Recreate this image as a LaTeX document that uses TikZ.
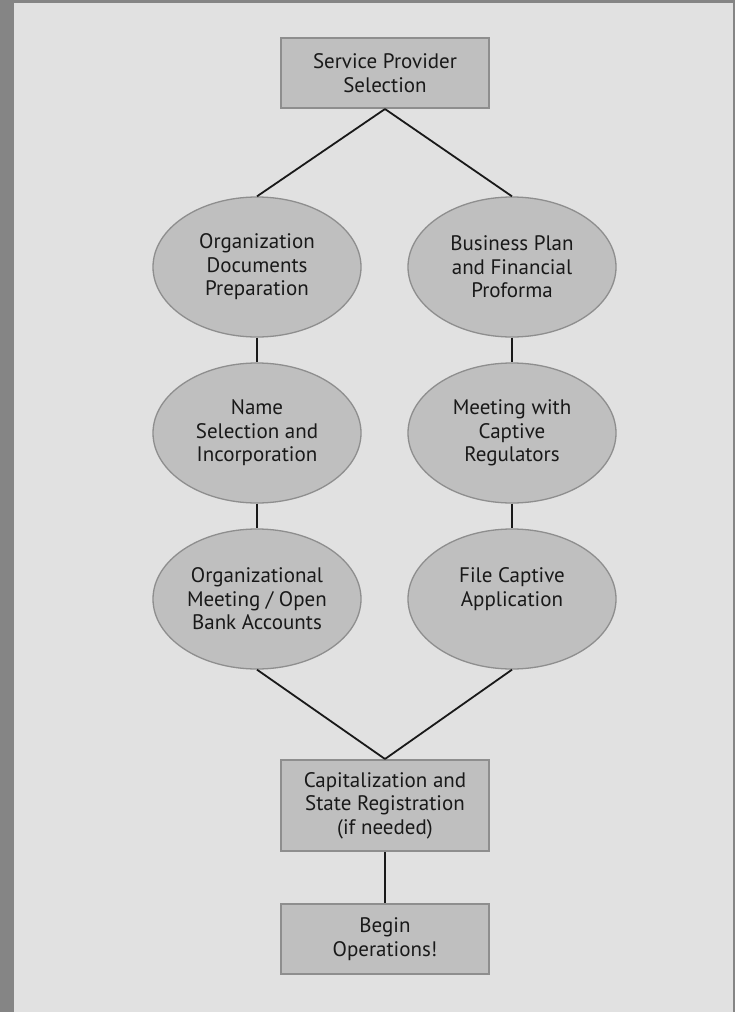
\documentclass[tikz,border=0pt]{standalone}
\usepackage{fontspec}
\setmainfont{PT Sans}
\usetikzlibrary{shapes.geometric}
\definecolor{FrameGray}{HTML}{858585}
\definecolor{PageGray}{HTML}{E1E1E1}
\definecolor{BoxGray}{HTML}{BFBFBF}
\definecolor{EdgeGray}{HTML}{8E8E8E}

\begin{document}
\begin{tikzpicture}[x=1pt,y=-1pt]
\tikzset{StepBox/.style={draw=EdgeGray,line width=2pt,fill=BoxGray,
    minimum width=208pt,minimum height=70pt,inner sep=0pt,align=center,
    text=black!90,font=\fontsize{21}{23.5}\selectfont}}
\tikzset{StepOval/.style={ellipse,draw=EdgeGray,line width=1.3pt,fill=BoxGray,
    minimum width=208pt,minimum height=140pt,inner sep=0pt,align=center,
    text=black!90,font=\fontsize{21}{23.5}\selectfont}}
\tikzset{Link/.style={draw=black!90,line width=1.8pt}}
% page and frame
\fill[FrameGray] (0,0) rectangle (735,1012);
\fill[PageGray] (14,3) rectangle (733,1012);
% boxes
\node[StepBox] (SP) at (385,73) {Service Provider\\Selection};
\node[StepOval] (OD) at (257,267) {Organization\\Documents\\Preparation};
\node[StepOval] (BP) at (512,267) {Business Plan\\and Financial\\Proforma};
\node[StepOval] (NS) at (257,433) {Name\\Selection and\\Incorporation};
\node[StepOval] (MR) at (512,433) {Meeting with\\Captive\\Regulators};
\node[StepOval] (OM) at (257,599) {Organizational\\Meeting / Open\\Bank Accounts};
\node[StepOval] (FC) at (512,599) {File Captive\\Application\\\mbox{}};
\node[StepBox,minimum height=91pt] (CS) at (385,805.5) {Capitalization and\\State Registration\\(if needed)};
\node[StepBox] (BO) at (385,939) {Begin\\Operations!};
% links
\draw[Link] (SP.south) -- (OD.north);
\draw[Link] (SP.south) -- (BP.north);
\draw[Link] (OD) -- (NS);
\draw[Link] (NS) -- (OM);
\draw[Link] (BP) -- (MR);
\draw[Link] (MR) -- (FC);
\draw[Link] (OM.south) -- (CS.north);
\draw[Link] (FC.south) -- (CS.north);
\draw[Link] (CS) -- (BO);
\end{tikzpicture}
\end{document}
